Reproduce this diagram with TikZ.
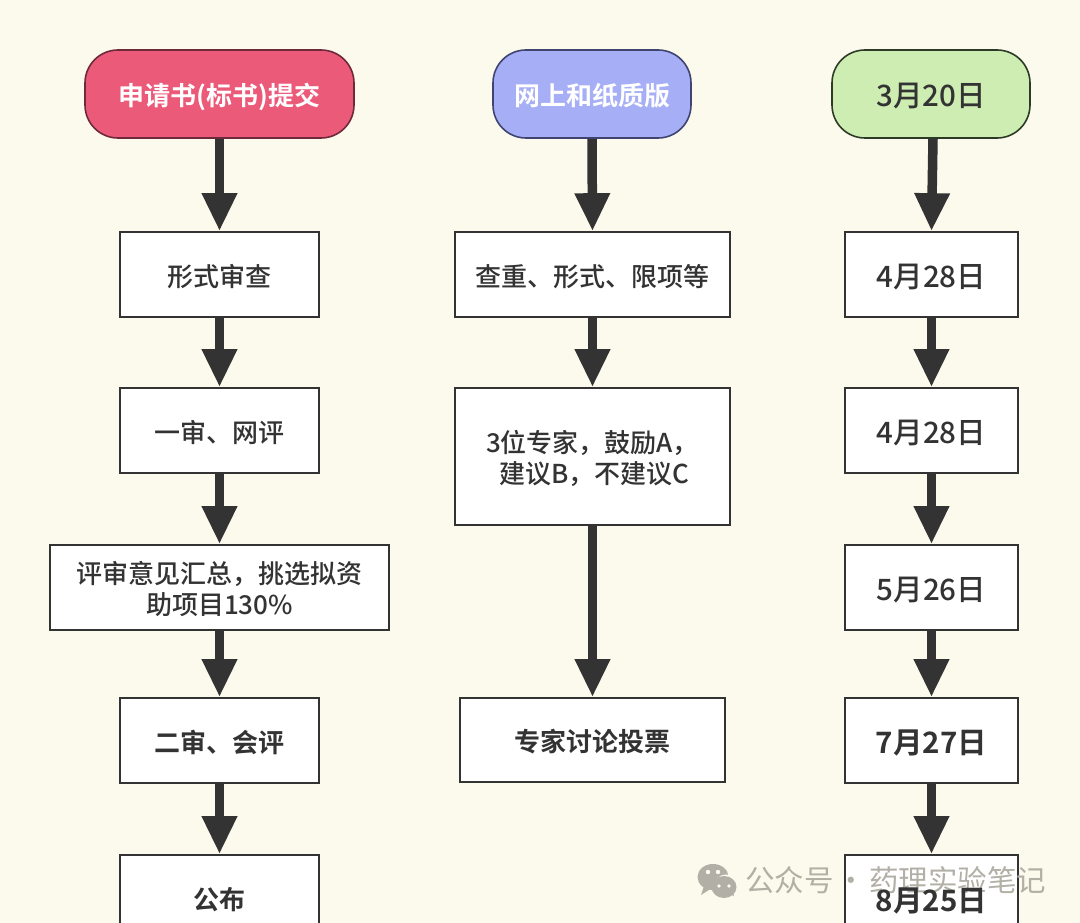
\documentclass[tikz,border=0pt]{standalone}
\usepackage{fontspec}
\setmainfont{Noto Sans CJK SC}
\newfontfamily\cjkmed{Noto Sans CJK SC Medium}
\newfontfamily\cjkheavy{Noto Sans CJK SC Bold}
\usetikzlibrary{arrows.meta}
\definecolor{bgc}{HTML}{FCFAEC}
\definecolor{inkc}{HTML}{333333}
\definecolor{redf}{HTML}{EC5A7A}
\definecolor{redd}{HTML}{6E2A3A}
\definecolor{bluef}{HTML}{A6AEF6}
\definecolor{blued}{HTML}{3F4470}
\definecolor{greenf}{HTML}{CDEDB2}
\definecolor{greend}{HTML}{2E3A28}
\definecolor{markc}{HTML}{B2B0A6}
\newcommand{\lowtext}[1]{\raisebox{-11.5pt}[0pt][0pt]{#1}}
\newcommand{\lowdate}[1]{\raisebox{-13pt}[0pt][0pt]{#1}}
\tikzset{
  pill/.style={draw,line width=1.6pt,rounded corners=33pt,inner sep=0pt,anchor=center,font=\fontsize{26}{31}\selectfont\cjkheavy},
  whitebox/.style={draw=inkc,fill=white,line width=1.6pt,inner sep=0pt,align=center,text=inkc,font=\fontsize{26}{31.5}\selectfont\cjkmed},
  strongbox/.style={whitebox,font=\fontsize{26}{31.5}\selectfont\cjkheavy},
  datebox/.style={whitebox,font=\fontsize{29.5}{31.5}\selectfont\cjkmed},
  datestrong/.style={whitebox,font=\fontsize{29.5}{31.5}\selectfont\cjkheavy},
  flow/.style={draw=inkc,line width=9.5pt,-{Triangle[width=33pt,length=38pt,fill=inkc]}},
  wmtext/.style={text=markc,inner sep=0pt,font=\fontsize{29.5}{32}\selectfont}
}
\begin{document}
\begin{tikzpicture}[x=1pt,y=-1pt]
\useasboundingbox (0,0) rectangle (1080,923);
\clip (0,0) rectangle (1080,923);
\fill[bgc] (0,0) rectangle (1080,923);

% column 1
\node[pill,fill=redf,draw=redd,text=white,minimum width=269pt,minimum height=88pt] (a0) at (219.5,94) {\lowtext{申请书(标书)提交}};
\node[whitebox,minimum width=199pt,minimum height=85pt] (a1) at (219.5,274.5) {\lowtext{形式审查}};
\node[whitebox,minimum width=199pt,minimum height=85pt] (a2) at (219.5,430.5) {\lowtext{一审、网评}};
\node[whitebox,minimum width=339pt,minimum height=85pt] (a3) at (219.5,587.5) {\rule{0pt}{25pt}评审意见汇总，挑选拟资\\助项目130\%};
\node[strongbox,minimum width=199pt,minimum height=85pt] (a4) at (219.5,740.5) {\lowtext{二审、会评}};
\node[strongbox,minimum width=199pt,minimum height=85pt] (a5) at (219.5,897.5) {\lowtext{公布}};

% column 2
\node[pill,fill=bluef,draw=blued,text=white,minimum width=198pt,minimum height=88pt] (b0) at (592,94) {\lowtext{网上和纸质版}};
\node[whitebox,minimum width=275pt,minimum height=85pt] (b1) at (592.5,274.5) {\lowtext{查重、形式、限项等}};
\node[whitebox,minimum width=275pt,minimum height=137pt] (b2) at (592.5,456.5) {\rule{0pt}{26pt}3位专家，鼓励A，\\\hspace{4pt}建议B，不建议C};
\node[strongbox,minimum width=265pt,minimum height=84pt] (b3) at (592.5,740) {\lowtext{专家讨论投票}};

% column 3
\node[pill,fill=greenf,draw=greend,text=inkc,minimum width=198pt,minimum height=88pt,font=\fontsize{29.5}{31}\selectfont\cjkmed] (c0) at (931,94) {\lowdate{3月20日}};
\node[datebox,minimum width=173pt,minimum height=85pt] (c1) at (931.5,274.5) {\lowdate{4月28日}};
\node[datebox,minimum width=173pt,minimum height=85pt] (c2) at (931.5,430.5) {\lowdate{4月28日}};
\node[datebox,minimum width=173pt,minimum height=85pt] (c3) at (931.5,587.5) {\lowdate{5月26日}};
\node[datestrong,minimum width=173pt,minimum height=85pt] (c4) at (931.5,740.5) {\lowdate{7月27日}};
\node[whitebox,minimum width=173pt,minimum height=85pt] (c5) at (931.5,897.5) {};

% connectors
\draw[flow] (a0.south) -- (a1.north);
\draw[flow] (a1.south) -- (a2.north);
\draw[flow] (a2.south) -- (a3.north);
\draw[flow] (a3.south) -- (a4.north);
\draw[flow] (a4.south) -- (a5.north);
\draw[flow] (b0.south) -- (b1.north);
\draw[flow] (b1.south) -- (b2.north);
\draw[flow] (b2.south) -- (b3.north);
\draw[flow] ([xshift=2pt]c0.south) -- (c1.north);
\draw[flow] (c1.south) -- (c2.north);
\draw[flow] (c2.south) -- (c3.north);
\draw[flow] (c3.south) -- (c4.north);
\draw[flow] (c4.south) -- (c5.north);

% watermark
\fill[markc] (713,877) ellipse (15.5pt and 13pt);
\fill[markc] (704,886) -- (701,895) -- (712,888) -- cycle;
\fill[bgc] (726,887) circle (12.5pt);
\fill[markc] (724,887) ellipse (12.5pt and 11pt);
\fill[markc] (728,893) -- (734,896) -- (732,889) -- cycle;
\fill[bgc] (708,872) circle (2.2pt) (718,872) circle (2.2pt) (719,886) circle (1.8pt) (729,886) circle (1.8pt);
\node[wmtext,anchor=west] (wm) at (745,880) {公众号\hspace{3pt}·\hspace{3pt}药理实验笔记};
\node[datestrong,draw=none,fill=none,inner sep=0pt,anchor=center] (c5t) at (931.5,901) {8月25日};
\end{tikzpicture}
\end{document}
